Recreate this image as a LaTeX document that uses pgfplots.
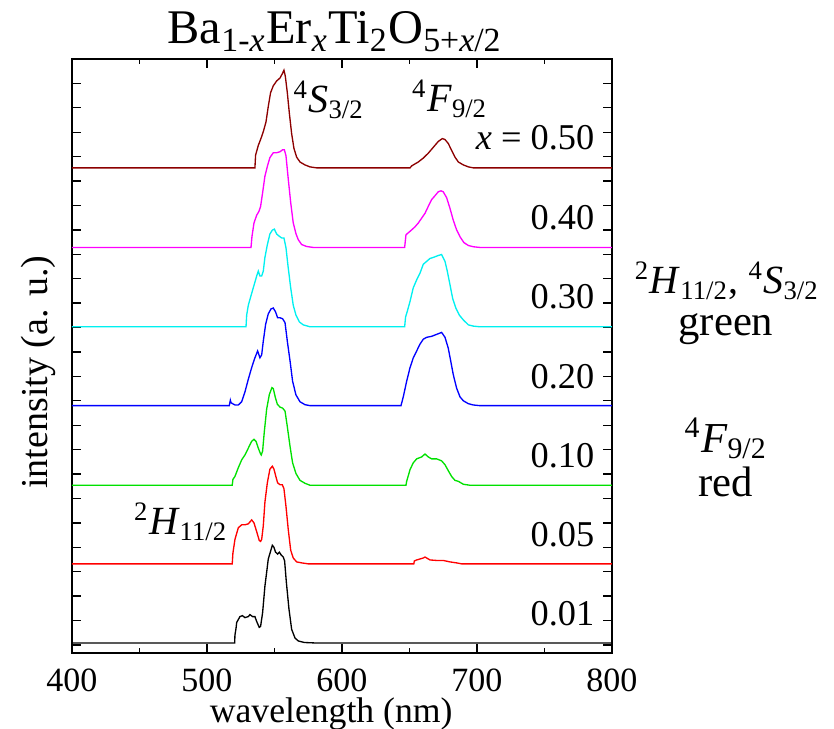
\documentclass[border=0pt]{standalone}
\usepackage{fontspec}
\setmainfont{Liberation Serif}
\usepackage{pgfplots}
\usepackage{pgfplotstable}
\pgfplotsset{compat=1.18}
\newcommand\lab{\fontsize{10.2pt}{12pt}\selectfont}
\newcommand\xlf{\fontsize{10.7pt}{13pt}\selectfont}
\newcommand\ylf{\fontsize{11.4pt}{13pt}\selectfont}
\newcommand\numf{\fontsize{10.9pt}{13pt}\selectfont}
\newcommand\trf{\fontsize{12pt}{14pt}\selectfont}
\newcommand\rtf{\fontsize{12.8pt}{15pt}\selectfont}
\newcommand\rtfa{\fontsize{12pt}{14pt}\selectfont}
\definecolor{cBrown}{RGB}{140,0,0}
\definecolor{cMag}{RGB}{255,0,255}
\definecolor{cCyan}{RGB}{0,240,240}
\definecolor{cBlue}{RGB}{0,0,255}
\definecolor{cGreen}{RGB}{0,225,0}
\definecolor{cRed}{RGB}{255,0,0}

\pgfplotstableread[row sep=\\]{
x y \\
400 0 \\ 520.5 0 \\ 520.7 0.08 \\ 521.5 0.15 \\ 522 0.21 \\ 524.4 0.27 \\ 526.2 0.28 \\ 528.1 0.26 \\
530.6 0.27 \\ 531.8 0.29 \\ 533.8 0.27 \\ 535.5 0.27 \\ 536.8 0.22 \\ 538.7 0.16 \\ 539.7 0.17 \\
541.2 0.31 \\ 542.9 0.58 \\ 545.4 0.86 \\ 548.4 1.0 \\ 549.6 0.98 \\ 550.8 0.93 \\ 552.3 0.91 \\
553.6 0.93 \\ 555 0.90 \\ 556.5 0.88 \\ 557.5 0.84 \\ 558.8 0.62 \\ 560.7 0.35 \\ 562.7 0.14 \\
565.2 0.05 \\ 567.7 0.02 \\ 572 0.005 \\ 580 0 \\ 800 0 \\
}\blackdata

\pgfplotstableread[row sep=\\]{
x y \\
400 0 \\ 518.7 0 \\ 519.2 0.11 \\ 520.7 0.25 \\ 523.2 0.37 \\ 525.7 0.40 \\ 528.1 0.40 \\ 530.6 0.41 \\
533.1 0.45 \\ 534.8 0.42 \\ 536.8 0.33 \\ 538.7 0.24 \\ 539.7 0.23 \\ 540.5 0.25 \\ 541.7 0.39 \\
542.9 0.63 \\ 544.7 0.83 \\ 546.6 0.97 \\ 548.4 1.0 \\ 549.6 0.97 \\ 551.1 0.89 \\ 552.3 0.83 \\
554.1 0.81 \\ 555.8 0.81 \\ 557 0.77 \\ 558.5 0.59 \\ 560.2 0.35 \\ 562 0.14 \\ 563.9 0.06 \\
566.4 0.02 \\ 570.1 0.01 \\ 575 0 \\ 653.2 0 \\ 653.6 0.03 \\ 655.3 0.04 \\ 660.2 0.06 \\
661.5 0.07 \\ 665.2 0.04 \\ 670.1 0.035 \\ 675 0.035 \\ 680 0.02 \\ 684.9 0.01 \\ 688.6 0 \\ 800 0 \\
}\reddata

\pgfplotstableread[row sep=\\]{
x y \\
400 0 \\ 518.7 0 \\ 519.2 0.06 \\ 520.7 0.09 \\ 523.2 0.18 \\ 525.7 0.26 \\ 528.1 0.31 \\ 530.6 0.38 \\
533.1 0.45 \\ 534.8 0.47 \\ 536.3 0.45 \\ 538 0.38 \\ 539.7 0.32 \\ 540.2 0.31 \\ 541.2 0.35 \\
542.4 0.54 \\ 544.2 0.78 \\ 546.2 0.93 \\ 548.1 1.0 \\ 549.1 0.99 \\ 550.6 0.90 \\ 552.1 0.83 \\
554.1 0.80 \\ 556 0.79 \\ 557.8 0.76 \\ 559.5 0.60 \\ 561.5 0.40 \\ 563.4 0.23 \\ 565.9 0.12 \\
568.9 0.05 \\ 572.6 0.02 \\ 576.3 0 \\ 647.4 0 \\ 647.9 0.04 \\ 650.4 0.16 \\ 652.8 0.23 \\
655.3 0.27 \\ 659 0.29 \\ 661.5 0.32 \\ 663.9 0.29 \\ 666.4 0.27 \\ 670.1 0.27 \\ 673.8 0.25 \\
676.3 0.21 \\ 678.7 0.15 \\ 681.2 0.09 \\ 683.7 0.05 \\ 686.2 0.04 \\ 689.9 0.01 \\ 694.8 0 \\ 800 0 \\
}\greendata

\pgfplotstableread[row sep=\\]{
x y \\
400 0 \\ 516.5 0 \\ 517.3 0.055 \\ 517.8 0.03 \\ 519 0.02 \\ 520.7 0.007 \\ 523.2 0.007 \\
525.7 0.04 \\ 528.1 0.14 \\ 530.6 0.27 \\ 533.1 0.39 \\ 535.5 0.49 \\ 537.5 0.56 \\ 539.2 0.49 \\
540.5 0.52 \\ 541.7 0.66 \\ 543.4 0.83 \\ 545.4 0.94 \\ 547.4 0.99 \\ 549.1 1.0 \\ 550.8 0.96 \\
552.3 0.90 \\ 554.1 0.90 \\ 556 0.89 \\ 557.8 0.85 \\ 559.5 0.66 \\ 561.5 0.46 \\ 563.4 0.25 \\
565.9 0.11 \\ 568.9 0.04 \\ 572.6 0.01 \\ 576.3 0 \\ 643.7 0 \\ 645.4 0.09 \\ 647.9 0.25 \\
650.4 0.39 \\ 652.8 0.49 \\ 655.3 0.56 \\ 657.8 0.63 \\ 660.2 0.68 \\ 662.7 0.70 \\ 666.4 0.71 \\
670.1 0.73 \\ 673.8 0.75 \\ 676.3 0.70 \\ 678.7 0.59 \\ 680.5 0.46 \\ 682.4 0.32 \\ 684.9 0.18 \\
687.4 0.09 \\ 689.9 0.05 \\ 693.6 0.02 \\ 697.3 0.007 \\ 702.2 0 \\ 800 0 \\
}\bluedata

\pgfplotstableread[row sep=\\]{
x y \\
400 0 \\ 528.9 0 \\ 529.4 0.12 \\ 530.6 0.22 \\ 531.8 0.28 \\ 534.3 0.40 \\ 536.8 0.52 \\ 538 0.57 \\
539.2 0.52 \\ 540.5 0.52 \\ 541.7 0.57 \\ 542.9 0.71 \\ 544.7 0.84 \\ 546.6 0.95 \\ 548.4 0.99 \\
549.9 1.0 \\ 551.6 0.95 \\ 553.3 0.93 \\ 555.3 0.91 \\ 557 0.91 \\ 558.5 0.81 \\ 560.2 0.60 \\
562 0.40 \\ 563.9 0.22 \\ 565.9 0.12 \\ 568.4 0.05 \\ 571.3 0.02 \\ 576.3 0 \\ 646.4 0 \\
647.1 0.10 \\ 648.4 0.16 \\ 650.4 0.26 \\ 652.8 0.40 \\ 655.3 0.48 \\ 657.8 0.55 \\ 660.2 0.64 \\
662.7 0.67 \\ 665.2 0.70 \\ 667.6 0.71 \\ 671.3 0.73 \\ 673.8 0.74 \\ 676.3 0.67 \\ 678 0.57 \\
680 0.43 \\ 682 0.29 \\ 684.4 0.19 \\ 686.9 0.12 \\ 689.9 0.07 \\ 693.6 0.02 \\ 697.3 0.007 \\
702.2 0 \\ 800 0 \\
}\cyandata

\pgfplotstableread[row sep=\\]{
x y \\
400 0 \\ 532.6 0 \\ 533.3 0.11 \\ 534.8 0.25 \\ 536.8 0.33 \\ 538.5 0.37 \\ 539.7 0.42 \\
541.2 0.56 \\ 542.9 0.73 \\ 544.7 0.83 \\ 546.6 0.92 \\ 549.1 0.97 \\ 551.6 0.97 \\ 554.1 0.98 \\
556 1.0 \\ 557.3 1.0 \\ 558.5 0.94 \\ 560.2 0.70 \\ 562 0.46 \\ 563.9 0.25 \\ 565.9 0.14 \\
567.6 0.08 \\ 570.1 0.03 \\ 573.8 0.01 \\ 578.7 0 \\ 646.4 0 \\ 647.4 0.13 \\ 649.1 0.15 \\
651.6 0.18 \\ 654 0.21 \\ 656.5 0.25 \\ 659 0.30 \\ 661.5 0.35 \\ 663.9 0.42 \\ 666.4 0.49 \\
668.9 0.53 \\ 671.3 0.57 \\ 673.3 0.58 \\ 675 0.57 \\ 677.5 0.51 \\ 680 0.40 \\ 682.4 0.28 \\
684.9 0.18 \\ 687.4 0.11 \\ 690.3 0.05 \\ 693.6 0.02 \\ 697.3 0.007 \\ 702.2 0 \\ 800 0 \\
}\magdata

\pgfplotstableread[row sep=\\]{
x y \\
400 0 \\ 535.5 0 \\ 536 0.13 \\ 538 0.23 \\ 539.7 0.29 \\ 541.7 0.37 \\ 543.7 0.47 \\ 545.4 0.63 \\
547.1 0.77 \\ 549.1 0.84 \\ 551.6 0.89 \\ 554.1 0.92 \\ 556 0.97 \\ 557 1.0 \\ 558 0.94 \\
559.5 0.77 \\ 561 0.56 \\ 562.7 0.35 \\ 564.4 0.20 \\ 566.4 0.11 \\ 568.9 0.06 \\ 572.6 0.03 \\
576.3 0.01 \\ 581.2 0 \\ 650.4 0 \\ 651.6 0.02 \\ 654 0.04 \\ 656.5 0.06 \\ 660.2 0.10 \\
663.9 0.15 \\ 667.6 0.21 \\ 671.3 0.27 \\ 674.3 0.30 \\ 676.3 0.29 \\ 678.7 0.25 \\ 681.2 0.18 \\
683.7 0.11 \\ 686.2 0.06 \\ 689.9 0.03 \\ 693.6 0.01 \\ 697.3 0 \\ 800 0 \\
}\browndata

\begin{document}
\begin{tikzpicture}
\useasboundingbox (-21.6pt,-22.8pt) rectangle (228.6pt,195.9pt);
\begin{axis}[
  at={(0,0)}, anchor=south west,
  scale only axis, width=162pt, height=178.2pt,
  xmin=400, xmax=800, ymin=-0.33, ymax=24,
  xtick={400,500,600,700,800}, minor x tick num=1,
  ytick={0,1,...,24}, yticklabels={},
  tick align=inside,
  major tick length=2.7pt, minor tick length=1.5pt,
  axis line style={line width=0.6pt},
  every tick/.style={black, line width=0.4pt},
  tick label style={font=\lab},
  /pgf/number format/assume math mode=true,
  xticklabel style={anchor=center, yshift=-8.1pt},
  xlabel={wavelength (nm)}, ylabel={intensity (a. u.)},
  xlabel style={at={(axis description cs:0.48,-0.1035)}, anchor=center, font=\xlf},
  ylabel style={at={(axis description cs:-0.063,0.473)}, anchor=center, font=\ylf},
  every axis title shift=0pt,
  title={Ba\textsubscript{1-\textit{x}}Er\textsubscript{\textit{x}}Ti\textsubscript{2}O\textsubscript{5+\textit{x}/2}},
  title style={at={(axis description cs:0.487,1.0253)}, anchor=base, inner sep=0pt, font=\fontsize{14.5pt}{17pt}\selectfont},
  clip=false,
  every axis plot/.append style={line width=0.4pt},
]
\addplot[black] table[x=x, y expr=\thisrow{y}*4+0.08] {\blackdata};
\addplot[cRed] table[x=x, y expr=\thisrow{y}*4+3.32] {\reddata};
\addplot[cGreen] table[x=x, y expr=\thisrow{y}*4+6.54] {\greendata};
\addplot[cBlue] table[x=x, y expr=\thisrow{y}*4+9.80] {\bluedata};
\addplot[cCyan] table[x=x, y expr=\thisrow{y}*4+13.03] {\cyandata};
\addplot[cMag] table[x=x, y expr=\thisrow{y}*4+16.28] {\magdata};
\addplot[cBrown] table[x=x, y expr=\thisrow{y}*4+19.54] {\browndata};

\node[anchor=east, inner sep=0pt, font=\numf] at (axis cs:787.4,20.76) {\textit{x} = 0.50};
\node[anchor=east, inner sep=0pt, font=\numf] at (axis cs:787.4,17.49) {0.40};
\node[anchor=east, inner sep=0pt, font=\numf] at (axis cs:787.4,14.25) {0.30};
\node[anchor=east, inner sep=0pt, font=\numf] at (axis cs:787.4,10.97) {0.20};
\node[anchor=east, inner sep=0pt, font=\numf] at (axis cs:787.4,7.74) {0.10};
\node[anchor=east, inner sep=0pt, font=\numf] at (axis cs:787.4,4.50) {0.05};
\node[anchor=east, inner sep=0pt, font=\numf] at (axis cs:787.4,1.27) {0.01};

\node[anchor=west, inner sep=0pt, font=\trf] at (axis cs:563.7,22.32) {\textsuperscript{4}\textit{S}\textsubscript{3/2}};
\node[anchor=center, inner sep=0pt, font=\trf] at (axis cs:680,22.36) {\textsuperscript{4}\textit{F}\textsubscript{9/2}};
\node[anchor=center, inner sep=0pt, font=\trf] at (axis cs:480.7,5.04) {\textsuperscript{2}\textit{H}\textsubscript{11/2}};

\node[anchor=center, inner sep=0pt, font=\rtfa] at (axis cs:885.2,14.92) {\textsuperscript{2}\textit{H}\textsubscript{11/2},\ \textsuperscript{4}\textit{S}\textsubscript{3/2}};
\node[anchor=center, inner sep=0pt, font=\rtf] at (axis cs:884.4,12.92) {green};
\node[anchor=center, inner sep=0pt, font=\rtf] at (axis cs:884.4,8.47) {\textsuperscript{4}\textit{F}\textsubscript{9/2}};
\node[anchor=center, inner sep=0pt, font=\rtf] at (axis cs:884.4,6.67) {red};
\end{axis}
\end{tikzpicture}
\end{document}
